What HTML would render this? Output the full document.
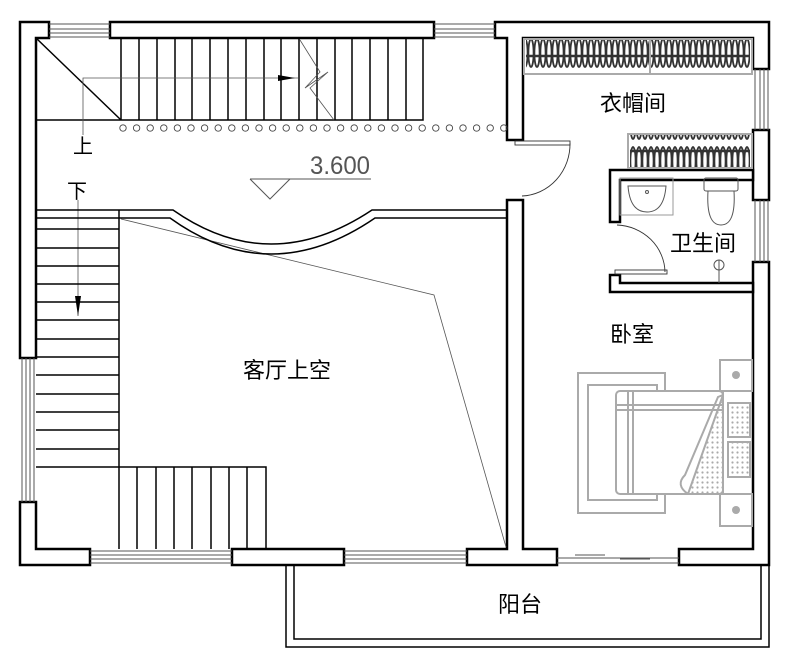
<!DOCTYPE html>
<html><head><meta charset="utf-8"><style>
html,body{margin:0;padding:0;background:#fff;}
svg{display:block;}
text{font-family:"Liberation Sans","Noto Sans CJK SC",sans-serif;}
</style></head><body>
<svg width="789" height="667" viewBox="0 0 789 667" xmlns="http://www.w3.org/2000/svg">
<defs>
<pattern id="hang" x="0" y="0" width="6" height="36" patternUnits="userSpaceOnUse">
<ellipse cx="3" cy="17" rx="2.6" ry="14" fill="none" stroke="#333" stroke-width="1.8"/>
</pattern>
<pattern id="dots" x="0" y="0" width="5" height="5" patternUnits="userSpaceOnUse">
<circle cx="2.5" cy="2.5" r="1.1" fill="#aaa"/>
</pattern>
</defs>
<g fill="#fff" stroke="#000" stroke-width="2.5">
<path d="M20,22 H49 V38 H36 V358 H20 Z"/>
<rect x="110" y="22" width="324" height="16"/>
<path d="M495,22 H769 V69 H753 V38 H523 V140 H507 V38 H495 Z"/>
<rect x="753" y="130" width="16" height="70"/>
<path d="M753,262 H769 V565 H679 V549 H753 Z"/>
<path d="M507,200 H523 V549 H557 V565 H467 V549 H507 Z"/>
<path d="M20,502 H36 V549 H90 V565 H20 Z"/>
<rect x="232" y="549" width="112" height="16"/>
<path d="M610,170 H753 V180 H620 V222 H610 Z"/>
<path d="M610,275 H620 V283 H753 V292 H610 Z"/>
</g>
<g stroke="#555" stroke-width="1" fill="none">
<path d="M49,24 H110 M49,29 H110 M49,33 H110 M49,37 H110"/>
<path d="M434,24 H495 M434,29 H495 M434,33 H495 M434,37 H495"/>
<path d="M755,69 V130 M760,69 V130 M764,69 V130 M768,69 V130"/>
<path d="M755,200 V262 M760,200 V262 M764,200 V262 M768,200 V262"/>
<path d="M22,358 V502 M26,358 V502 M30,358 V502 M34,358 V502"/>
<path d="M90,551 H232 M90,555 H232 M90,559 H232 M90,563 H232"/>
<path d="M344,551 H467 M344,555 H467 M344,559 H467 M344,563 H467"/>
<path d="M557,558 H679 M557,563 H679 M575,555 H605 M620,559 H650"/>
</g>
<g stroke="#000" stroke-width="1.5" fill="none">
<path d="M286,565 V647 H769 V565"/>
<path d="M294,565 V639 H761 V565"/>
</g>
<g stroke="#000" stroke-width="1.5" fill="none">
<path d="M36,38 L121,120"/>
<path d="M36,120 H423 V38"/>
<path d="M121,38V120 M139,38V120 M157,38V120 M175,38V120 M192,38V120 M210,38V120 M228,38V120 M246,38V120 M264,38V120 M281,38V120 M299,38V120 M317,38V120 M335,38V120 M352,38V120 M370,38V120 M388,38V120 M406,38V120"/>
</g>
<g stroke="#555" stroke-width="0.8" fill="none">
<path d="M83,135 V78 H298"/>
<path d="M300,40 L320,72 L305,88 L328,72 L310,88 L334,120"/>
<path d="M78,200 V316"/>
<path d="M121,219 L434,295 L506,547"/>
</g>
<path d="M278,75 L295,78 L278,81 Z" fill="#000"/>
<path d="M75,296 L78,316 L81,296 Z" fill="#000"/>
<g fill="none" stroke="#444" stroke-width="0.9">
<circle cx="123" cy="128" r="3.2"/><circle cx="136.6" cy="128" r="3.2"/><circle cx="150.2" cy="128" r="3.2"/><circle cx="163.8" cy="128" r="3.2"/><circle cx="177.4" cy="128" r="3.2"/><circle cx="191" cy="128" r="3.2"/><circle cx="204.6" cy="128" r="3.2"/><circle cx="218.2" cy="128" r="3.2"/><circle cx="231.8" cy="128" r="3.2"/><circle cx="245.4" cy="128" r="3.2"/><circle cx="259" cy="128" r="3.2"/><circle cx="272.6" cy="128" r="3.2"/><circle cx="286.2" cy="128" r="3.2"/><circle cx="299.8" cy="128" r="3.2"/><circle cx="313.4" cy="128" r="3.2"/><circle cx="327" cy="128" r="3.2"/><circle cx="340.6" cy="128" r="3.2"/><circle cx="354.2" cy="128" r="3.2"/><circle cx="367.8" cy="128" r="3.2"/><circle cx="381.4" cy="128" r="3.2"/><circle cx="395" cy="128" r="3.2"/><circle cx="408.6" cy="128" r="3.2"/><circle cx="422.2" cy="128" r="3.2"/><circle cx="435.8" cy="128" r="3.2"/><circle cx="449.4" cy="128" r="3.2"/><circle cx="463" cy="128" r="3.2"/><circle cx="476.6" cy="128" r="3.2"/><circle cx="490.2" cy="128" r="3.2"/><circle cx="503.8" cy="128" r="3.2"/>
</g>
<text x="73" y="153" font-size="20">上</text>
<text x="67" y="198" font-size="20">下</text>
<text x="310" y="174" font-size="25" fill="#555" textLength="60" lengthAdjust="spacingAndGlyphs">3.600</text>
<g stroke="#555" stroke-width="1" fill="none"><path d="M250,179 H371 M250,179 L270,199 L290,179"/></g>
<g stroke="#000" stroke-width="1.5" fill="none">
<path d="M36,210 H173 Q270,278 372,210 H507"/>
<path d="M36,218 H170 Q270,290 375,218 H507"/>
</g>
<g stroke="#000" stroke-width="1.5" fill="none">
<path d="M119,210 V549"/>
<path d="M36,229H119 M36,248H119 M36,266H119 M36,284H119 M36,302H119 M36,320H119 M36,339H119 M36,357H119 M36,375H119 M36,394H119 M36,412H119 M36,430H119 M36,449H119 M36,467H266 V549"/>
<path d="M137,467V549 M156,467V549 M174,467V549 M192,467V549 M211,467V549 M229,467V549 M247,467V549"/>
</g>
<rect x="524" y="39" width="228" height="35" fill="#fff" stroke="#aaa" stroke-width="2"/>
<rect x="526" y="40" width="224" height="33" fill="url(#hang)"/>
<path d="M526,56 H750" stroke="#333" stroke-width="2.5"/>
<path d="M650,40 V73" stroke="#aaa" stroke-width="2"/>
<rect x="628" y="134" width="124" height="34" fill="#fff" stroke="#aaa" stroke-width="2"/>
<rect x="630" y="135" width="120" height="32" fill="url(#hang)"/>
<path d="M630,151 H750" stroke="#333" stroke-width="2.5"/>
<g stroke="#333" stroke-width="0.9" fill="none">
<rect x="515" y="141" width="55" height="4"/>
<path d="M570,143 A50,52 0 0 1 522,196"/>
<rect x="615" y="270" width="52" height="4"/>
<path d="M665,272 A50,48 0 0 0 617,225"/>
</g>
<g stroke="#555" stroke-width="1" fill="none">
<rect x="620" y="178" width="53" height="37" stroke="#999"/>
<path d="M628,186 H666 Q664,212 647,212 Q630,212 628,186 Z"/>
<circle cx="647" cy="192" r="1.5"/>
<rect x="704" y="178" width="34" height="13" rx="2"/>
<path d="M708,191 H734 Q736,225 721,225 Q706,225 708,191 Z"/>
<circle cx="719" cy="265" r="5"/><path d="M719,260 V283" />
</g>
<g stroke="#aaa" stroke-width="2" fill="none">
<rect x="578" y="373" width="87" height="140"/>
<rect x="588" y="385" width="69" height="115"/>
<rect x="616" y="391" width="107" height="103" rx="4" fill="#fff"/>
<path d="M616,405 H723 M616,410 H723 M628,391 V494 M633,391 V494"/>
<path d="M688,494 L723,395 L723,494 Z" fill="url(#dots)"/>
<path d="M688,494 Q675,485 685,475 L718,397 L723,395"/>
<rect x="720" y="360" width="32" height="31"/>
<rect x="720" y="494" width="32" height="32"/>
<rect x="728" y="403" width="22" height="34" fill="url(#dots)"/>
<rect x="728" y="442" width="22" height="35" fill="url(#dots)"/>
<path d="M723,391 V494"/>
</g>
<circle cx="736" cy="375" r="4" fill="#aaa"/>
<circle cx="736" cy="510" r="4" fill="#aaa"/>
<g font-size="22" fill="#000">
<text x="600" y="111">衣帽间</text>
<text x="670" y="251">卫生间</text>
<text x="610" y="342">卧室</text>
<text x="243" y="378">客厅上空</text>
<text x="498" y="612">阳台</text>
</g>
</svg>
</body></html>
